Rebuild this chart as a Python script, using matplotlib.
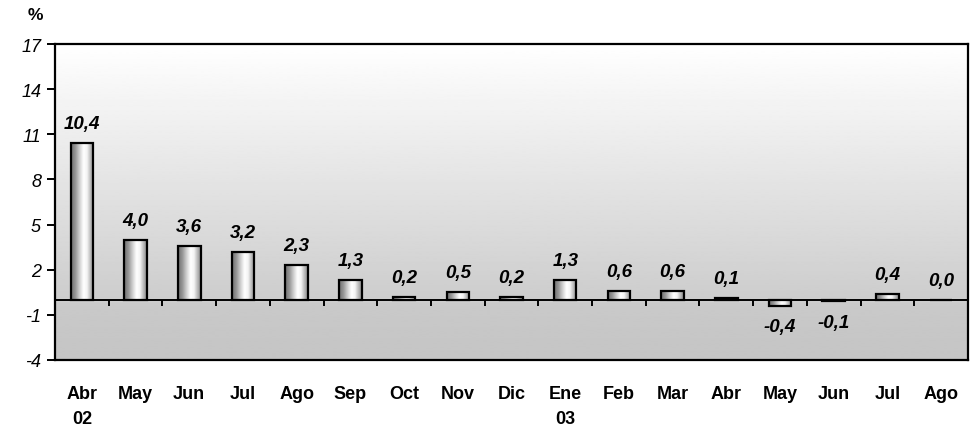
import numpy as np
import matplotlib
matplotlib.use("Agg")
import matplotlib.pyplot as plt
from matplotlib.colors import LinearSegmentedColormap

# data
months = ["Abr\n02", "May", "Jun", "Jul", "Ago", "Sep", "Oct", "Nov", "Dic",
          "Ene\n03", "Feb", "Mar", "Abr", "May", "Jun", "Jul", "Ago"]
values = [10.4, 4.0, 3.6, 3.2, 2.3, 1.3, 0.2, 0.5, 0.2,
          1.3, 0.6, 0.6, 0.1, -0.4, -0.1, 0.4, 0.0]
yticks = [-4, -1, 2, 5, 8, 11, 14, 17]

plt.rcParams['font.family'] = ['Liberation Sans', 'DejaVu Sans']

fig = plt.figure(figsize=(9.8, 4.27), dpi=100)
ax = fig.add_axes([0.0561, 0.1546, 0.9317, 0.74])

x = np.arange(len(values))

# plot area background: vertical gradient white -> grey
bg = np.concatenate([np.linspace(1.0, 0.80, 210), np.linspace(0.79, 0.77, 46)])
ax.imshow(bg.reshape(-1, 1), cmap='gray', vmin=0, vmax=1, aspect='auto',
          extent=[0, 1, 0, 1], transform=ax.transAxes, zorder=0,
          interpolation='bilinear')

# cylinder like shading for the bars
cyl = LinearSegmentedColormap.from_list(
    "cyl", [(0.0, "#6e6e6e"), (0.2, "#9a9a9a"), (0.4, "#d8d8d8"),
            (0.55, "#ffffff"), (0.7, "#f4f4f4"), (0.85, "#bdbdbd"),
            (1.0, "#8a8a8a")])
grad = np.linspace(0, 1, 64).reshape(1, -1)

bars = ax.bar(x, values, width=0.42, facecolor='none', edgecolor='black',
              linewidth=1.6, zorder=3)
for b in bars:
    h = b.get_height()
    if h == 0:
        continue
    x0 = b.get_x()
    im = ax.imshow(grad, cmap=cyl, aspect='auto', interpolation='bilinear',
                   extent=[x0, x0 + b.get_width(), min(0, h), max(0, h)],
                   zorder=2)
    im.set_clip_path(b)

# value labels
for b, v in zip(bars, values):
    txt = f"{v:.1f}".replace(".", ",")
    xc = b.get_x() + b.get_width() / 2
    if v < 0:
        ax.annotate(txt, (xc, v), xytext=(0, -9), textcoords='offset points',
                    ha='center', va='top', fontsize=13.5, fontweight='bold',
                    fontstyle='italic')
    else:
        ax.annotate(txt, (xc, v), xytext=(0, 8), textcoords='offset points',
                    ha='center', va='bottom', fontsize=13.5, fontweight='bold',
                    fontstyle='italic')

# zero line with category ticks hanging below it
ax.axhline(0, color='black', linewidth=1.4, zorder=4)
ax.vlines(x[:-1] + 0.5, 0, -0.42, color='black', linewidth=1.4, zorder=4)

ax.set_xlim(-0.5, len(values) - 0.5)
ax.set_ylim(-4, 17)

ax.set_yticks(yticks)
ax.set_yticklabels([str(t) for t in yticks], fontsize=13, fontstyle='italic')
ax.tick_params(axis='y', direction='out', length=6, width=1.4, pad=4)

ax.set_xticks(x)
ax.set_xticklabels(months, fontsize=13, fontweight='bold', linespacing=1.6)
ax.tick_params(axis='x', length=0, pad=18)

for s in ax.spines.values():
    s.set_linewidth(1.6)
    s.set_color('black')

fig.text(35 / 980, 1 - 15 / 427, "%", fontsize=12.5, fontweight='bold',
         ha='center', va='center')

fig.savefig("out.png", dpi=100)
